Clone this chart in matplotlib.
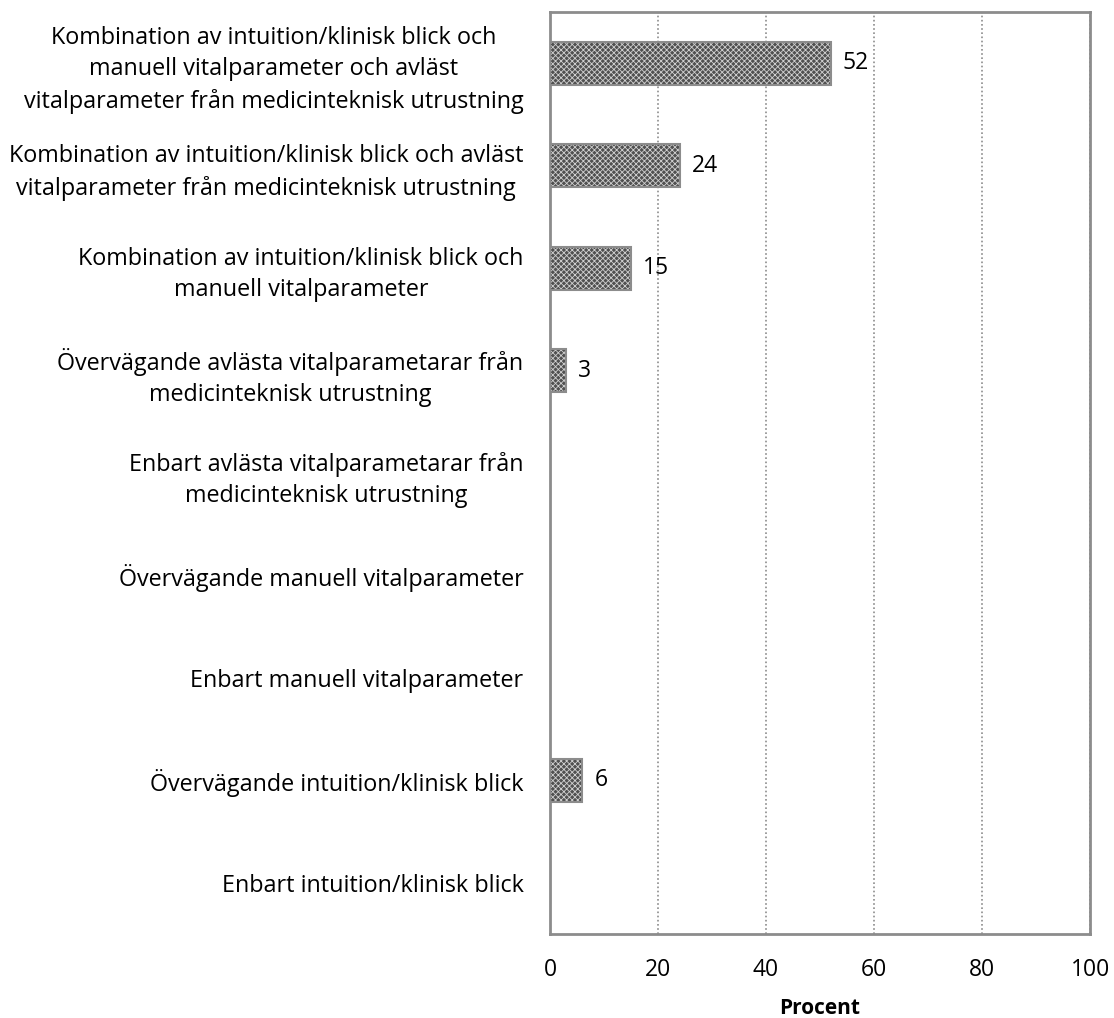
import matplotlib.pyplot as plt
import numpy as np

plt.rcParams['font.family'] = ['Open Sans', 'DejaVu Sans']
plt.rcParams['hatch.linewidth'] = 0.6

categories = [
    "Kombination av intuition/klinisk blick och\nmanuell vitalparameter och avläst\nvitalparameter från medicinteknisk utrustning",
    "Kombination av intuition/klinisk blick och avläst\nvitalparameter från medicinteknisk utrustning",
    "Kombination av intuition/klinisk blick och\nmanuell vitalparameter",
    "Övervägande avlästa vitalparametarar från\nmedicinteknisk utrustning",
    "Enbart avlästa vitalparametarar från\nmedicinteknisk utrustning",
    "Övervägande manuell vitalparameter",
    "Enbart manuell vitalparameter",
    "Övervägande intuition/klinisk blick",
    "Enbart intuition/klinisk blick",
]
procent = [52, 24, 15, 3, 0, 0, 0, 6, 0]
xticks = [0, 20, 40, 60, 80, 100]

fig = plt.figure(figsize=(11.14, 10.18), dpi=100)
ax = fig.add_axes([0.4937, 0.0825, 0.4848, 0.9057])

y = np.arange(len(categories))
# patterned fill, then a plain outline on top
ax.barh(y, procent, height=0.42, color='#505050', edgecolor='#d0d0d0',
        hatch='xxxxxx', linewidth=0, zorder=3)
ax.barh(y, procent, height=0.42, fill=False, edgecolor='#8c8c8c',
        linewidth=1.5, zorder=4)

for yi, v in zip(y, procent):
    if v > 0:
        ax.text(v + 2.2, yi, str(v), va='center', ha='left', fontsize=16.5)

ax.set_xlim(0, 100)
ax.set_ylim(len(categories) - 0.5, -0.5)
ax.set_xticks(xticks)
ax.set_yticks(y)
ax.set_yticklabels(categories, fontsize=16.8)
for lbl in ax.get_yticklabels():
    lbl.set_multialignment('center')
    lbl.set_linespacing(1.4)
ax.tick_params(axis='y', length=0, pad=19)
ax.tick_params(axis='x', length=0, pad=17, labelsize=16.5)

ax.xaxis.grid(True, color='#8c8c8c', linestyle=(0, (1, 1.5)), linewidth=1.2)
ax.set_axisbelow(True)
for s in ax.spines.values():
    s.set_color('#8c8c8c')
    s.set_linewidth(2)

ax.set_xlabel("Procent", fontsize=15, fontweight='bold', labelpad=12)

plt.savefig("out.png", dpi=100)
